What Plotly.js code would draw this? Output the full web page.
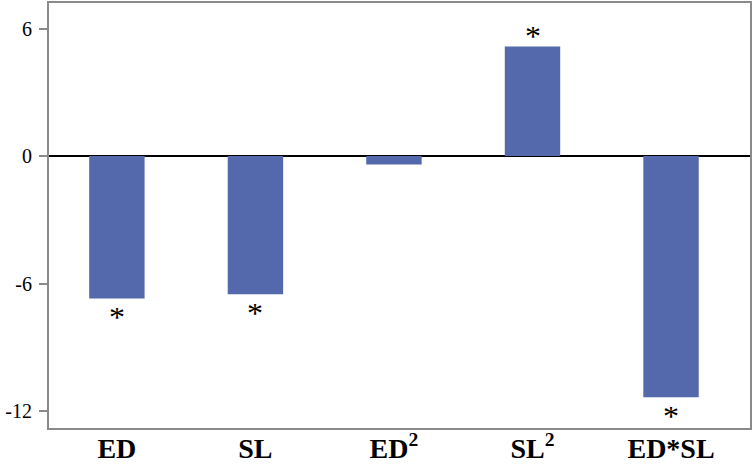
<!DOCTYPE html>
<html>
<head>
<meta charset="utf-8">
<script src="https://cdn.plot.ly/plotly-3.0.1.min.js"></script>
<style>html,body{margin:0;padding:0;background:#fff;}#chart{width:754px;height:472px;}</style>
</head>
<body>
<div id="chart"></div>
<script>
var categories = ["ED", "SL", "ED<sup>2</sup>", "SL<sup>2</sup>", "ED*SL"];
var values = [-6.7, -6.5, -0.4, 5.15, -11.35];
var significance = ["*", "*", "", "*", "*"];
var yTickValues = [-12, -6, 0, 6];
var yTickLabels = ["-12", "-6", "0", "6"];

var xIdx = categories.map(function (c, i) { return i; });

var trace = {
  type: "bar",
  x: xIdx,
  y: values,
  marker: { color: "rgb(84,105,172)" },
  hoverinfo: "skip"
};

var annotations = [];
values.forEach(function (v, i) {
  if (!significance[i]) return;
  annotations.push({
    x: i, y: v, xref: "x", yref: "y",
    text: significance[i],
    showarrow: false,
    yanchor: "middle",
    valign: "middle",
    height: 18,
    yshift: v < 0 ? -19 : 11,
    font: { family: "Liberation Serif, Times New Roman, serif", size: 32, color: "#000" }
  });
});

var layout = {
  width: 754, height: 472,
  margin: { l: 49, r: 4, t: 3, b: 44 },
  paper_bgcolor: "#fff", plot_bgcolor: "#fff",
  showlegend: false,
  bargap: 0.6,
  xaxis: {
    range: [-0.49, 4.57],
    tickvals: xIdx,
    ticktext: categories,
    showgrid: false, zeroline: false,
    showline: true, mirror: true, linecolor: "#8a8a8a", linewidth: 2,
    ticks: "", ticklabelstandoff: -6,
    tickfont: { family: "Liberation Serif, Times New Roman, serif", size: 28, color: "#000", weight: "bold" }
  },
  yaxis: {
    range: [-12.8, 7.2],
    tickvals: yTickValues,
    ticktext: yTickLabels,
    showgrid: false,
    zeroline: true, zerolinecolor: "#000", zerolinewidth: 2,
    showline: true, mirror: true, linecolor: "#8a8a8a", linewidth: 2,
    ticks: "outside", ticklen: 8, tickwidth: 2, tickcolor: "#8a8a8a",
    ticklabelstandoff: 3,
    tickfont: { family: "Liberation Serif, Times New Roman, serif", size: 20, color: "#000" }
  },
  annotations: annotations
};

Plotly.newPlot("chart", [trace], layout, { displayModeBar: false, staticPlot: true });
</script>
</body>
</html>
